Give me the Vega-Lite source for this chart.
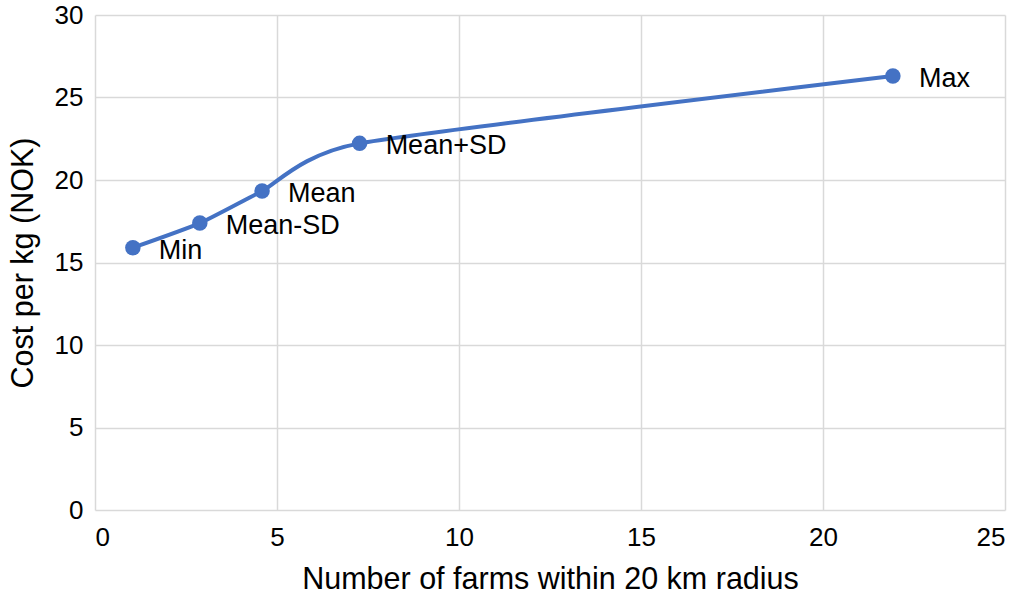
{
  "$schema": "https://vega.github.io/schema/vega-lite/v6.json",
  "autosize": {"type": "none"},
  "padding": {"left": 95, "top": 15, "right": 19, "bottom": 88},
  "width": 910,
  "height": 495,
  "background": "white",
  "config": {
    "view": {"stroke": null},
    "font": "Liberation Sans",
    "axis": {
      "grid": true,
      "gridColor": "#d9d9d9",
      "gridWidth": 1.5,
      "domain": false,
      "ticks": false,
      "labelFont": "Liberation Sans",
      "labelFontSize": 26,
      "labelColor": "#000000",
      "titleFont": "Liberation Sans",
      "titleFontSize": 30.5,
      "titleFontWeight": "normal",
      "titleColor": "#000000"
    }
  },
  "data": {
    "values": [
      {"farms": 1.04, "cost": 15.9, "label": "Min"},
      {"farms": 2.88, "cost": 17.39, "label": "Mean-SD"},
      {"farms": 4.59, "cost": 19.33, "label": "Mean"},
      {"farms": 7.27, "cost": 22.22, "label": "Mean+SD"},
      {"farms": 21.92, "cost": 26.3, "label": "Max"}
    ]
  },
  "encoding": {
    "x": {
      "field": "farms", "type": "quantitative",
      "scale": {"domain": [0, 25], "nice": false},
      "axis": {"values": [0, 5, 10, 15, 20, 25], "labelPadding": 14, "title": "Number of farms within 20 km radius", "titlePadding": 14}
    },
    "y": {
      "field": "cost", "type": "quantitative",
      "scale": {"domain": [0, 30], "nice": false},
      "axis": {"values": [0, 5, 10, 15, 20, 25, 30], "labelPadding": 12, "title": "Cost per kg (NOK)", "titlePadding": 16}
    }
  },
  "layer": [
    {"mark": {"type": "line", "interpolate": "cardinal", "tension": 0.45, "color": "#4472C4", "strokeWidth": 4}},
    {"mark": {"type": "point", "filled": true, "opacity": 1, "color": "#4472C4", "size": 240}},
    {"mark": {"type": "text", "align": "left", "baseline": "middle", "dx": 26, "dy": 3, "fontSize": 27, "color": "#000000"},
     "encoding": {"text": {"field": "label"}}}
  ]
}
